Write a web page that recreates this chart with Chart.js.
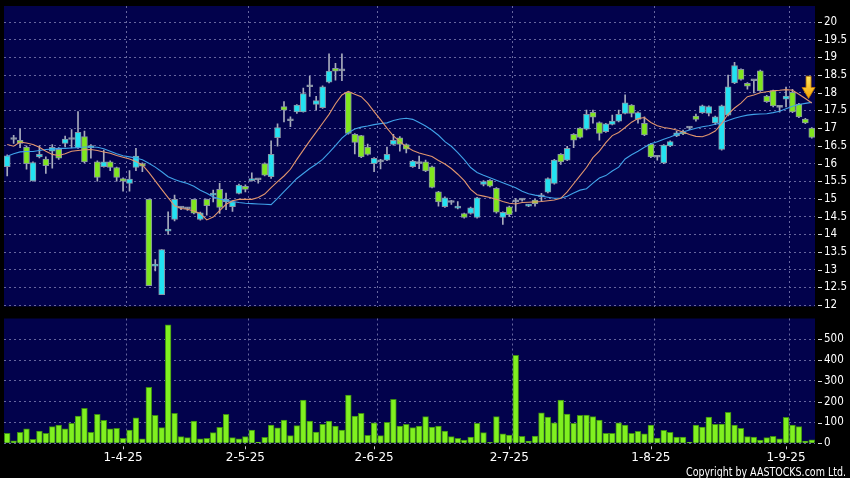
<!DOCTYPE html>
<html>
<head>
<meta charset="utf-8">
<script src="https://cdn.jsdelivr.net/npm/chart.js@4.4.1/dist/chart.umd.min.js"></script>
<style>
  html, body { margin: 0; padding: 0; background: #000; }
  #wrap { position: relative; width: 850px; height: 478px; overflow: hidden; background: #000; }
  canvas { position: absolute; left: 0; }
  #priceChart { top: -1px; }
  #volumeChart { top: 310px; }
</style>
</head>
<body>
<div id="wrap">
  <canvas id="priceChart" width="850" height="318"></canvas>
  <canvas id="volumeChart" width="850" height="168"></canvas>
</div>
<script>
// trading days shown on the chart (d-m-yy)
const dates = [
  "6-3-25","7-3-25","10-3-25","11-3-25","12-3-25","13-3-25","14-3-25","17-3-25","18-3-25","19-3-25",
  "20-3-25","21-3-25","24-3-25","25-3-25","26-3-25","27-3-25","28-3-25","31-3-25",
  "1-4-25","2-4-25","3-4-25","7-4-25","8-4-25","9-4-25","10-4-25","11-4-25","14-4-25","15-4-25",
  "16-4-25","17-4-25","22-4-25","23-4-25","24-4-25","25-4-25","28-4-25","29-4-25","30-4-25",
  "2-5-25","6-5-25","7-5-25","8-5-25","9-5-25","12-5-25","13-5-25","14-5-25","15-5-25","16-5-25",
  "19-5-25","20-5-25","21-5-25","22-5-25","23-5-25","26-5-25","27-5-25","28-5-25","29-5-25","30-5-25",
  "2-6-25","3-6-25","4-6-25","5-6-25","6-6-25","9-6-25","10-6-25","11-6-25","12-6-25","13-6-25",
  "16-6-25","17-6-25","18-6-25","19-6-25","20-6-25","23-6-25","24-6-25","25-6-25","26-6-25","27-6-25","30-6-25",
  "2-7-25","3-7-25","4-7-25","7-7-25","8-7-25","9-7-25","10-7-25","11-7-25","14-7-25","15-7-25","16-7-25",
  "17-7-25","18-7-25","21-7-25","22-7-25","23-7-25","24-7-25","25-7-25","28-7-25","29-7-25","30-7-25","31-7-25",
  "1-8-25","4-8-25","5-8-25","6-8-25","7-8-25","8-8-25","11-8-25","12-8-25","13-8-25","14-8-25","15-8-25",
  "18-8-25","19-8-25","20-8-25","21-8-25","22-8-25","25-8-25","26-8-25","27-8-25","28-8-25","29-8-25",
  "1-9-25","2-9-25","3-9-25","4-9-25","5-9-25"
];

const tickLabels = ["1-4-25", "2-5-25", "2-6-25", "2-7-25", "1-8-25", "1-9-25"];

const openPrices = [
  15.91,16.68,16.66,16.47,15.51,16.19,16.13,16.35,16.40,16.57,
  16.68,16.45,16.76,16.45,16.05,15.91,16.05,15.89,15.58,15.44,
  15.89,16.00,14.99,13.10,12.30,14.09,14.42,14.74,14.72,14.99,
  14.42,14.99,15.11,15.27,14.92,14.78,15.16,15.36,15.52,15.54,
  16.00,15.63,16.73,17.61,17.21,17.46,17.46,18.17,17.67,17.58,
  18.30,18.69,18.62,18.01,16.83,16.79,16.47,16.00,16.05,16.10,
  16.54,16.73,16.54,15.91,16.00,16.05,15.91,15.20,14.78,14.90,
  14.74,14.59,14.59,14.48,15.41,15.53,15.30,14.48,14.78,14.92,
  14.97,14.80,14.97,15.06,15.19,15.44,16.26,16.10,16.83,17.00,
  16.97,17.45,17.16,16.90,17.11,17.20,17.42,17.65,17.25,17.14,
  16.55,16.18,16.02,16.50,16.78,16.90,17.00,17.34,17.44,17.42,
  17.15,16.40,17.37,18.28,18.66,18.27,18.34,18.62,17.91,18.06,
  17.59,17.82,18.01,17.68,17.26,17.00
];
const highPrices = [
  16.25,16.80,16.98,16.50,16.05,16.50,16.19,16.54,16.45,16.78,
  16.96,17.47,16.92,16.54,16.08,16.38,16.08,15.90,15.60,15.80,
  16.43,16.02,15.00,13.29,13.57,14.64,15.11,14.78,14.76,15.00,
  14.63,15.00,15.25,15.44,15.17,14.95,15.42,15.40,15.74,15.56,
  16.02,16.64,17.12,17.75,17.32,17.67,18.13,18.47,17.90,18.20,
  19.10,18.83,19.10,18.03,16.85,16.80,16.55,16.17,16.12,16.47,
  16.83,16.76,16.56,16.09,16.21,16.10,15.93,15.22,15.06,14.96,
  14.93,14.60,14.77,15.05,15.52,15.55,15.32,14.64,14.80,15.02,
  15.00,14.85,14.99,15.16,15.60,16.12,16.28,16.49,16.85,17.02,
  17.51,17.51,17.18,17.14,17.37,17.51,17.94,17.67,17.46,17.32,
  16.57,16.22,16.54,16.64,16.92,16.95,17.04,17.40,17.65,17.63,
  17.34,17.65,18.50,18.86,18.68,18.29,18.36,18.64,17.93,18.08,
  17.62,18.16,18.10,17.70,17.28,17.02
];
const lowPrices = [
  15.65,16.57,16.45,15.84,15.50,16.16,15.72,15.87,16.12,16.47,
  16.44,16.43,16.02,16.15,15.50,15.90,15.80,15.50,15.22,15.22,
  15.80,15.77,12.55,12.97,12.30,14.00,14.38,14.70,14.68,14.58,
  14.40,14.54,14.92,14.59,14.70,14.65,15.14,15.20,15.50,15.45,
  15.65,15.58,16.49,17.18,17.04,17.42,17.45,17.90,17.51,17.56,
  18.28,18.36,18.34,16.83,16.27,16.17,16.24,15.77,15.85,16.08,
  16.52,16.35,16.30,15.89,15.86,15.77,15.31,14.80,14.76,14.85,
  14.72,14.46,14.57,14.46,15.37,15.34,14.60,14.28,14.50,14.65,
  14.94,14.78,14.80,14.93,15.17,15.42,15.98,16.08,16.45,16.72,
  16.95,17.14,16.66,16.88,17.09,17.18,17.40,17.32,17.14,16.79,
  16.17,16.10,16.00,16.48,16.76,16.82,16.96,17.20,17.42,17.35,
  17.10,16.38,17.35,18.26,18.36,18.10,18.00,18.04,17.73,17.60,
  17.45,17.60,17.44,17.30,17.13,16.72
];
const closePrices = [
  16.22,16.68,16.57,16.00,16.03,16.26,15.94,16.46,16.15,16.69,
  16.68,16.88,16.05,16.50,15.61,16.05,15.89,15.61,15.50,15.56,
  16.21,15.93,12.55,13.16,13.57,14.15,14.99,14.74,14.72,14.60,
  14.61,14.81,15.17,14.76,15.00,14.92,15.39,15.27,15.55,15.54,
  15.67,16.26,17.02,17.51,17.21,17.65,17.98,18.17,17.78,18.17,
  18.61,18.61,18.62,16.85,16.60,16.19,16.26,16.15,16.05,16.26,
  16.66,16.54,16.41,16.07,16.00,15.79,15.33,14.92,15.03,14.90,
  14.78,14.48,14.75,15.03,15.49,15.36,14.63,14.62,14.56,14.92,
  14.97,14.83,14.87,15.06,15.58,16.10,16.05,16.43,16.66,16.74,
  17.39,17.31,16.85,17.12,17.20,17.39,17.72,17.42,17.44,16.81,
  16.19,16.18,16.52,16.62,16.87,16.84,17.00,17.25,17.63,17.61,
  17.32,17.63,18.17,18.77,18.38,18.19,18.34,18.06,17.75,17.63,
  17.59,17.91,17.46,17.32,17.15,16.74
];

// moving averages as drawn on the chart (orange short, blue long)
const maShort = [
  16.54,16.49,16.61,16.58,16.54,16.46,16.35,16.26,16.23,16.28,
  16.35,16.37,16.39,16.40,16.37,16.33,16.29,16.23,16.18,16.13,
  16.06,15.96,15.75,15.51,15.27,15.04,14.81,14.73,14.71,14.66,
  14.59,14.41,14.49,14.67,14.85,14.95,14.99,14.99,14.99,15.04,
  15.14,15.32,15.49,15.65,15.84,16.12,16.38,16.64,16.89,17.14,
  17.39,17.69,17.94,18.04,17.96,17.89,17.71,17.47,17.24,17.00,
  16.78,16.62,16.48,16.37,16.30,16.25,16.20,16.09,15.99,15.86,
  15.70,15.52,15.27,15.12,15.08,15.04,14.99,14.93,14.88,14.86,
  14.90,14.91,14.92,14.93,14.95,14.97,15.02,15.20,15.43,15.66,
  15.89,16.17,16.35,16.59,16.79,16.88,17.02,17.17,17.27,17.30,
  17.16,17.07,17.02,16.99,16.95,16.89,16.82,16.77,16.76,16.82,
  16.92,17.13,17.40,17.57,17.71,17.89,17.94,18.00,18.03,18.06,
  18.07,18.09,18.07,17.96,17.84,17.71
];
const maLong = [
  16.21,16.28,16.33,16.34,16.34,16.37,16.40,16.41,16.43,16.43,
  16.44,16.45,16.47,16.47,16.46,16.42,16.35,16.28,16.22,16.19,
  16.16,16.11,16.01,15.90,15.77,15.63,15.55,15.49,15.44,15.36,
  15.25,15.16,15.06,15.00,14.96,14.93,14.90,14.88,14.87,14.86,
  14.85,14.84,15.02,15.21,15.39,15.58,15.72,15.86,15.98,16.12,
  16.31,16.51,16.72,16.87,16.98,17.03,17.06,17.10,17.13,17.15,
  17.22,17.26,17.28,17.25,17.16,17.06,16.94,16.80,16.62,16.49,
  16.31,16.11,15.89,15.75,15.67,15.60,15.53,15.46,15.39,15.32,
  15.22,15.15,15.11,15.08,15.05,15.02,15.02,15.08,15.17,15.25,
  15.29,15.45,15.59,15.66,15.79,15.90,16.13,16.25,16.35,16.46,
  16.56,16.62,16.69,16.75,16.82,16.89,16.95,17.00,17.04,17.07,
  17.11,17.15,17.22,17.28,17.33,17.37,17.39,17.40,17.41,17.44,
  17.48,17.55,17.62,17.67,17.70,17.73
];

const volumes = [
  48,12,53,69,19,59,48,80,88,70,
  96,131,168,53,139,110,70,72,24,64,
  123,22,269,135,75,569,144,32,27,107,
  22,24,51,77,139,27,21,32,64,6,
  29,88,74,112,37,85,208,107,54,91,
  107,83,64,232,131,144,38,99,37,101,
  211,83,91,75,83,128,78,83,59,32,
  24,16,30,96,51,5,128,45,40,423,
  34,11,35,146,126,98,208,141,96,135,
  136,128,112,48,48,99,88,48,58,46,
  87,25,62,53,30,30,6,88,78,126,
  91,93,149,88,72,32,30,16,27,34,
  21,125,88,80,11,17
];

// marker arrow on the last bars
const arrowIndex = 124;
const arrowTop = 18.47;
const arrowNeck = 18.15;
const arrowTip = 17.84;

const plotColor = "#02024c";
const gridColor = "#66669e";
const upColor = "#22e2f2";
const downColor = "#80e61e";
const dojiColor = "#a4a8b8";
const labelFont = { family: '"DejaVu Sans Condensed", "DejaVu Sans", sans-serif', size: 11.5 };

function candleColor(i) {
  if (closePrices[i] > openPrices[i]) return upColor;
  if (closePrices[i] < openPrices[i]) return downColor;
  return dojiColor;
}

function xGridColor(ctx) {
  return tickLabels.includes(dates[ctx.index - 1]) ? gridColor : "rgba(0,0,0,0)";
}

const plotBackground = {
  id: "plotBackground",
  beforeDraw(chart) {
    const { ctx, chartArea: a } = chart;
    ctx.save();
    ctx.fillStyle = plotColor;
    ctx.fillRect(a.left, a.top, a.right - a.left, a.bottom - a.top);
    ctx.restore();
  },
};

// short white marks between the plot and the right-hand labels
const yTickMarks = {
  id: "yTickMarks",
  afterDraw(chart) {
    const { ctx, chartArea, scales } = chart;
    ctx.save();
    ctx.strokeStyle = "#e0e0e0";
    ctx.lineWidth = 1;
    ctx.beginPath();
    scales.y.ticks.forEach((t) => {
      const y = Math.round(scales.y.getPixelForValue(t.value)) + 0.5;
      ctx.moveTo(chartArea.right + 3, y);
      ctx.lineTo(chartArea.right + 7, y);
    });
    ctx.stroke();
    ctx.restore();
  },
};

const xTickMarks = {
  id: "xTickMarks",
  afterDraw(chart) {
    const { ctx, chartArea, scales } = chart;
    ctx.save();
    ctx.strokeStyle = "#c8c8c8";
    ctx.lineWidth = 1;
    ctx.beginPath();
    tickLabels.forEach((d) => {
      const x = Math.round(scales.x.getPixelForValue(dates.indexOf(d))) + 0.5;
      ctx.moveTo(x, chartArea.bottom + 3);
      ctx.lineTo(x, chartArea.bottom + 6);
    });
    ctx.stroke();
    ctx.font = '11.5px "DejaVu Sans Condensed", "DejaVu Sans", sans-serif';
    ctx.fillStyle = "#ffffff";
    ctx.textAlign = "right";
    ctx.textBaseline = "alphabetic";
    ctx.fillText("Copyright by AASTOCKS.com Ltd.", 846, 165.5, 160);
    ctx.restore();
  },
};

const downArrow = {
  id: "downArrow",
  afterDatasetsDraw(chart) {
    const { ctx, scales } = chart;
    const x = (scales.x.getPixelForValue(arrowIndex) + scales.x.getPixelForValue(arrowIndex + 1)) / 2;
    const yTop = scales.y.getPixelForValue(arrowTop);
    const yNeck = scales.y.getPixelForValue(arrowNeck);
    const yTip = scales.y.getPixelForValue(arrowTip);
    const grad = ctx.createLinearGradient(0, yTop, 0, yTip);
    grad.addColorStop(0, "#ffe860");
    grad.addColorStop(1, "#f5a000");
    ctx.save();
    ctx.beginPath();
    ctx.moveTo(x - 2.5, yTop);
    ctx.lineTo(x + 2.5, yTop);
    ctx.lineTo(x + 2.5, yNeck);
    ctx.lineTo(x + 6.5, yNeck);
    ctx.lineTo(x, yTip);
    ctx.lineTo(x - 6.5, yNeck);
    ctx.lineTo(x - 2.5, yNeck);
    ctx.closePath();
    ctx.fillStyle = grad;
    ctx.fill();
    ctx.strokeStyle = "#c07800";
    ctx.lineWidth = 0.8;
    ctx.stroke();
    ctx.restore();
  },
};

Chart.defaults.font.family = labelFont.family;
Chart.defaults.color = "#ffffff";

const priceChart = new Chart(document.getElementById("priceChart"), {
  type: "bar",
  data: {
    labels: dates,
    datasets: [
      {
        type: "line",
        data: maShort,
        borderColor: "#e2966e",
        borderWidth: 1.1,
        pointRadius: 0,
        tension: 0,
        order: 0,
      },
      {
        type: "line",
        data: maLong,
        borderColor: "#40a2e8",
        borderWidth: 1.1,
        pointRadius: 0,
        tension: 0,
        order: 1,
      },
      {
        data: openPrices.map((o, i) => [o, closePrices[i]]),
        backgroundColor: (ctx) => candleColor(ctx.dataIndex),
        borderColor: "#8894a4",
        borderWidth: 1,
        borderSkipped: false,
        barThickness: 6,
        minBarLength: 2,
        grouped: false,
        order: 2,
      },
      {
        data: lowPrices.map((l, i) => [l, highPrices[i]]),
        backgroundColor: "#a8acbc",
        borderWidth: 0,
        barThickness: 1,
        grouped: false,
        order: 3,
      },
    ],
  },
  options: {
    responsive: false,
    devicePixelRatio: 1,
    animation: false,
    events: [],
    layout: { padding: { left: 4, right: 0, top: 7, bottom: 10.5 } },
    plugins: { legend: { display: false }, tooltip: { enabled: false }, title: { display: false } },
    scales: {
      x: {
        type: "category",
        offset: true,
        grid: { offset: true, color: xGridColor, drawTicks: false },
        border: { display: false, dash: [2, 3] },
        ticks: { display: false, autoSkip: false },
        afterFit: (scale) => { scale.height = 0; },
      },
      y: {
        position: "right",
        min: 11.963,
        max: 20.452,
        ticks: {
          stepSize: 0.5,
          includeBounds: false,
          color: "#ffffff",
          font: labelFont,
          padding: 0,
          callback: (v) => v,
        },
        grid: { color: gridColor, drawTicks: true, tickLength: 9, tickColor: "rgba(0,0,0,0)" },
        border: { display: false, dash: [2, 3] },
        afterFit: (scale) => { scale.width = 35; },
      },
    },
  },
  plugins: [plotBackground, yTickMarks, downArrow],
});

const volumeChart = new Chart(document.getElementById("volumeChart"), {
  type: "bar",
  data: {
    labels: dates,
    datasets: [
      {
        data: volumes,
        backgroundColor: "#80f020",
        borderColor: "#3c8c12",
        borderWidth: 1,
        barThickness: 5.8,
      },
    ],
  },
  options: {
    responsive: false,
    devicePixelRatio: 1,
    animation: false,
    events: [],
    layout: { padding: { left: 4, right: 0, top: 8.5, bottom: 0 } },
    plugins: { legend: { display: false }, tooltip: { enabled: false }, title: { display: false } },
    scales: {
      x: {
        type: "category",
        offset: true,
        grid: { offset: true, color: xGridColor, drawTicks: false },
        border: { display: false, dash: [2, 3] },
        ticks: {
          autoSkip: false,
          maxRotation: 0,
          minRotation: 0,
          padding: 7,
          color: "#ffffff",
          font: { family: '"DejaVu Sans", sans-serif', size: 12 },
          callback: function (value) {
            const d = this.getLabelForValue(value);
            return tickLabels.includes(d) ? d : "";
          },
        },
        afterFit: (scale) => { scale.height = 34.7; },
      },
      y: {
        position: "right",
        min: 0,
        max: 600,
        ticks: { stepSize: 100, color: "#ffffff", font: labelFont, padding: 0 },
        afterBuildTicks: (scale) => { scale.ticks = scale.ticks.filter((t) => t.value <= 500); },
        grid: { color: gridColor, drawTicks: true, tickLength: 9, tickColor: "rgba(0,0,0,0)" },
        border: { display: false, dash: [2, 3] },
        afterFit: (scale) => { scale.width = 35; },
      },
    },
  },
  plugins: [plotBackground, yTickMarks, xTickMarks],
});
</script>
</body>
</html>
